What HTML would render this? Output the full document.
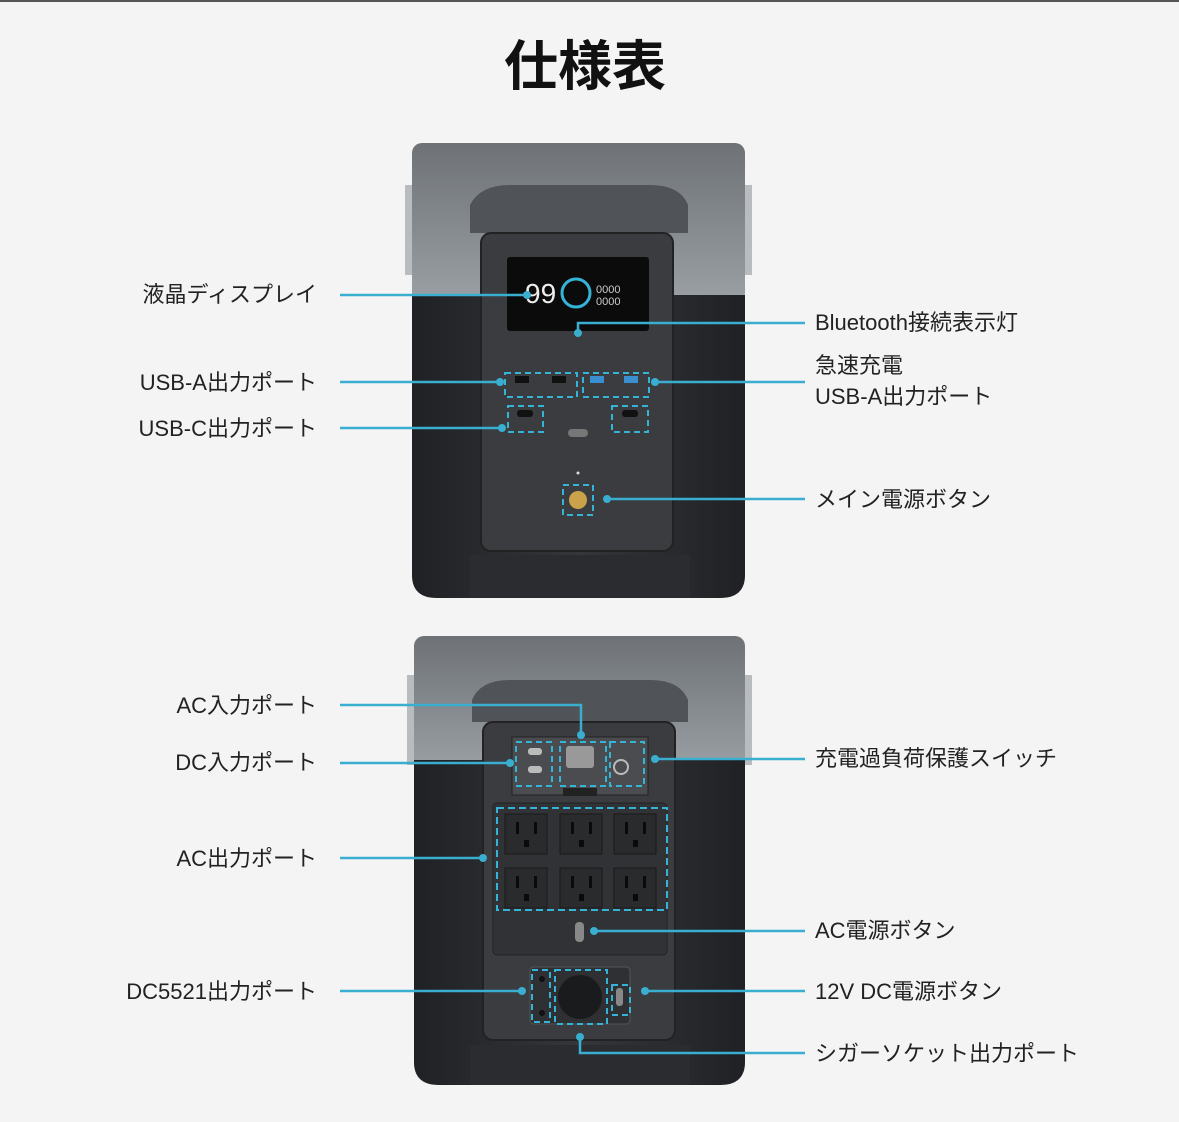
<!DOCTYPE html>
<html><head><meta charset="utf-8"><style>
html,body{margin:0;padding:0;background:#f4f4f4;}
svg{display:block}
text{font-family:"Liberation Sans","Noto Sans CJK JP",sans-serif;fill:#222;font-size:22px}
</style></head><body>
<svg width="1179" height="1122" viewBox="0 0 1179 1122" xmlns="http://www.w3.org/2000/svg">
<defs>
<linearGradient id="tg" x1="0" y1="0" x2="0" y2="1"><stop offset="0" stop-color="#6e7276"/><stop offset="1" stop-color="#9aa0a4"/></linearGradient>
<linearGradient id="bd" x1="0" y1="0" x2="1" y2="0"><stop offset="0" stop-color="#1f2124"/><stop offset="0.5" stop-color="#34363a"/><stop offset="1" stop-color="#1f2124"/></linearGradient>
</defs>
<rect x="0" y="0" width="1179" height="2" fill="#555"/>
<text x="585" y="85" text-anchor="middle" style="font-size:54px;font-weight:bold;fill:#111">仕様表</text>

<!-- TOP DEVICE -->
<g>
<rect x="405" y="185" width="12" height="90" fill="#b8bcbf"/>
<rect x="740" y="185" width="12" height="90" fill="#b8bcbf"/>
<rect x="412" y="143" width="333" height="160" rx="10" fill="url(#tg)"/>
<path d="M412 295 H745 V575 Q745 598 720 598 H437 Q412 598 412 575 Z" fill="url(#bd)"/>
<rect x="470" y="555" width="220" height="43" fill="#2a2c2f"/>
<path d="M470 233 L470 205 Q480 185 510 185 L650 185 Q680 185 688 205 L688 233 Z" fill="#505458"/>
<rect x="481" y="233" width="192" height="318" rx="10" fill="#3a3c3f" stroke="#222" stroke-width="2"/>
<rect x="507" y="257" width="142" height="74" rx="3" fill="#0b0b0c"/>
<text x="525" y="303" style="font-size:28px;fill:#eee">99</text>
<circle cx="576" cy="293" r="14" fill="none" stroke="#36b4d8" stroke-width="3"/>
<text x="596" y="293" style="font-size:11px;fill:#ccc">0000</text>
<text x="596" y="305" style="font-size:11px;fill:#ccc">0000</text>
<rect x="505" y="373" width="72" height="24" fill="none" stroke="#36b4d8" stroke-width="2" stroke-dasharray="6,4"/>
<rect x="583" y="373" width="66" height="24" fill="none" stroke="#36b4d8" stroke-width="2" stroke-dasharray="6,4"/>
<rect x="515" y="376" width="14" height="7" fill="#111"/><rect x="552" y="376" width="14" height="7" fill="#111"/>
<rect x="590" y="376" width="14" height="7" fill="#3a8fd0"/><rect x="624" y="376" width="14" height="7" fill="#3a8fd0"/>
<rect x="508" y="406" width="35" height="26" fill="none" stroke="#36b4d8" stroke-width="2" stroke-dasharray="6,4"/>
<rect x="612" y="406" width="36" height="26" fill="none" stroke="#36b4d8" stroke-width="2" stroke-dasharray="6,4"/>
<rect x="517" y="410" width="16" height="7" rx="3" fill="#111"/><rect x="622" y="410" width="16" height="7" rx="3" fill="#111"/>
<rect x="568" y="429" width="20" height="8" rx="4" fill="#777"/>
<rect x="563" y="485" width="30" height="30" fill="none" stroke="#36b4d8" stroke-width="2" stroke-dasharray="6,4"/>
<circle cx="578" cy="500" r="9" fill="#c9a24a"/>
<circle cx="578" cy="473" r="1.5" fill="#ddd"/>
</g>

<!-- BOTTOM DEVICE -->
<g>
<rect x="407" y="675" width="12" height="90" fill="#b8bcbf"/>
<rect x="740" y="675" width="12" height="90" fill="#b8bcbf"/>
<rect x="414" y="636" width="331" height="135" rx="10" fill="url(#tg)"/>
<path d="M414 760 H745 V1062 Q745 1085 720 1085 H439 Q414 1085 414 1062 Z" fill="url(#bd)"/>
<rect x="470" y="1045" width="220" height="40" fill="#2a2c2f"/>
<path d="M472 722 L472 700 Q480 680 510 680 L650 680 Q680 680 688 700 L688 722 Z" fill="#505458"/>
<rect x="483" y="722" width="192" height="318" rx="10" fill="#3a3c3f" stroke="#222" stroke-width="2"/>
<rect x="512" y="737" width="136" height="58" fill="#4a4c50" stroke="#222"/>
<rect x="516" y="742" width="36" height="44" fill="none" stroke="#36b4d8" stroke-width="2" stroke-dasharray="6,4"/>
<rect x="560" y="742" width="46" height="44" fill="none" stroke="#36b4d8" stroke-width="2" stroke-dasharray="6,4"/>
<rect x="610" y="742" width="34" height="44" fill="none" stroke="#36b4d8" stroke-width="2" stroke-dasharray="6,4"/>
<rect x="566" y="746" width="28" height="22" rx="3" fill="#999"/>
<rect x="528" y="748" width="14" height="7" rx="3" fill="#bbb"/><rect x="528" y="766" width="14" height="7" rx="3" fill="#bbb"/>
<circle cx="621" cy="767" r="7" fill="none" stroke="#bbb" stroke-width="2"/>
<rect x="563" y="788" width="34" height="8" fill="#222"/>
<rect x="493" y="803" width="174" height="152" rx="4" fill="#303235" stroke="#222"/>
<rect x="497" y="808" width="170" height="102" fill="none" stroke="#36b4d8" stroke-width="2" stroke-dasharray="7,4"/>
<g fill="#2a2b2d" stroke="#1a1a1a">
<rect x="505" y="814" width="42" height="40"/><rect x="560" y="814" width="42" height="40"/><rect x="614" y="814" width="42" height="40"/>
<rect x="505" y="868" width="42" height="40"/><rect x="560" y="868" width="42" height="40"/><rect x="614" y="868" width="42" height="40"/>
</g>
<g fill="#0a0a0a">
<rect x="516" y="822" width="3" height="12"/><rect x="534" y="822" width="3" height="12"/><rect x="524" y="840" width="5" height="7"/>
<rect x="571" y="822" width="3" height="12"/><rect x="589" y="822" width="3" height="12"/><rect x="579" y="840" width="5" height="7"/>
<rect x="625" y="822" width="3" height="12"/><rect x="643" y="822" width="3" height="12"/><rect x="633" y="840" width="5" height="7"/>
<rect x="516" y="876" width="3" height="12"/><rect x="534" y="876" width="3" height="12"/><rect x="524" y="894" width="5" height="7"/>
<rect x="571" y="876" width="3" height="12"/><rect x="589" y="876" width="3" height="12"/><rect x="579" y="894" width="5" height="7"/>
<rect x="625" y="876" width="3" height="12"/><rect x="643" y="876" width="3" height="12"/><rect x="633" y="894" width="5" height="7"/>
</g>
<rect x="575" y="922" width="9" height="20" rx="4" fill="#888"/>
<rect x="530" y="967" width="100" height="57" rx="4" fill="#2e3033" stroke="#555"/>
<rect x="532" y="970" width="18" height="52" fill="none" stroke="#36b4d8" stroke-width="2" stroke-dasharray="6,4"/>
<rect x="555" y="970" width="52" height="54" fill="none" stroke="#36b4d8" stroke-width="2" stroke-dasharray="6,4"/>
<rect x="612" y="985" width="18" height="30" fill="none" stroke="#36b4d8" stroke-width="2" stroke-dasharray="6,4"/>
<circle cx="580" cy="997" r="22" fill="#1a1b1d"/>
<circle cx="542" cy="979" r="3" fill="#111"/><circle cx="542" cy="1013" r="3" fill="#111"/>
<rect x="616" y="988" width="7" height="18" rx="3" fill="#888"/>
</g>

<!-- connectors -->
<g stroke="#3aaed0" stroke-width="2.5" fill="none">
<path d="M340 295 H527"/>
<path d="M805 323 H578 V333"/>
<path d="M340 382 H500"/>
<path d="M340 428 H502"/>
<path d="M655 382 H805"/>
<path d="M607 499 H805"/>
<path d="M340 705 H581 V735"/>
<path d="M340 763 H510"/>
<path d="M655 759 H805"/>
<path d="M340 858 H483"/>
<path d="M594 931 H805"/>
<path d="M340 991 H522"/>
<path d="M645 991 H805"/>
<path d="M580 1037 V1053 H805"/>
</g>
<g fill="#3aaed0">
<circle cx="527" cy="295" r="4"/><circle cx="578" cy="333" r="4"/><circle cx="500" cy="382" r="4"/><circle cx="502" cy="428" r="4"/>
<circle cx="655" cy="382" r="4"/><circle cx="607" cy="499" r="4"/><circle cx="581" cy="735" r="4"/><circle cx="510" cy="763" r="4"/>
<circle cx="655" cy="759" r="4"/><circle cx="483" cy="858" r="4"/><circle cx="594" cy="931" r="4"/><circle cx="522" cy="991" r="4"/>
<circle cx="645" cy="991" r="4"/><circle cx="580" cy="1037" r="4"/>
</g>

<!-- labels -->
<g text-anchor="end">
<text x="317" y="302">液晶ディスプレイ</text>
<text x="317" y="390">USB-A出力ポート</text>
<text x="317" y="436">USB-C出力ポート</text>
<text x="317" y="713">AC入力ポート</text>
<text x="317" y="770">DC入力ポート</text>
<text x="317" y="866">AC出力ポート</text>
<text x="317" y="999">DC5521出力ポート</text>
</g>
<text x="815" y="330">Bluetooth接続表示灯</text>
<text x="815" y="373">急速充電</text>
<text x="815" y="404">USB-A出力ポート</text>
<text x="815" y="507">メイン電源ボタン</text>
<text x="815" y="766">充電過負荷保護スイッチ</text>
<text x="815" y="938">AC電源ボタン</text>
<text x="815" y="999">12V DC電源ボタン</text>
<text x="815" y="1061">シガーソケット出力ポート</text>
</svg>
</body></html>
